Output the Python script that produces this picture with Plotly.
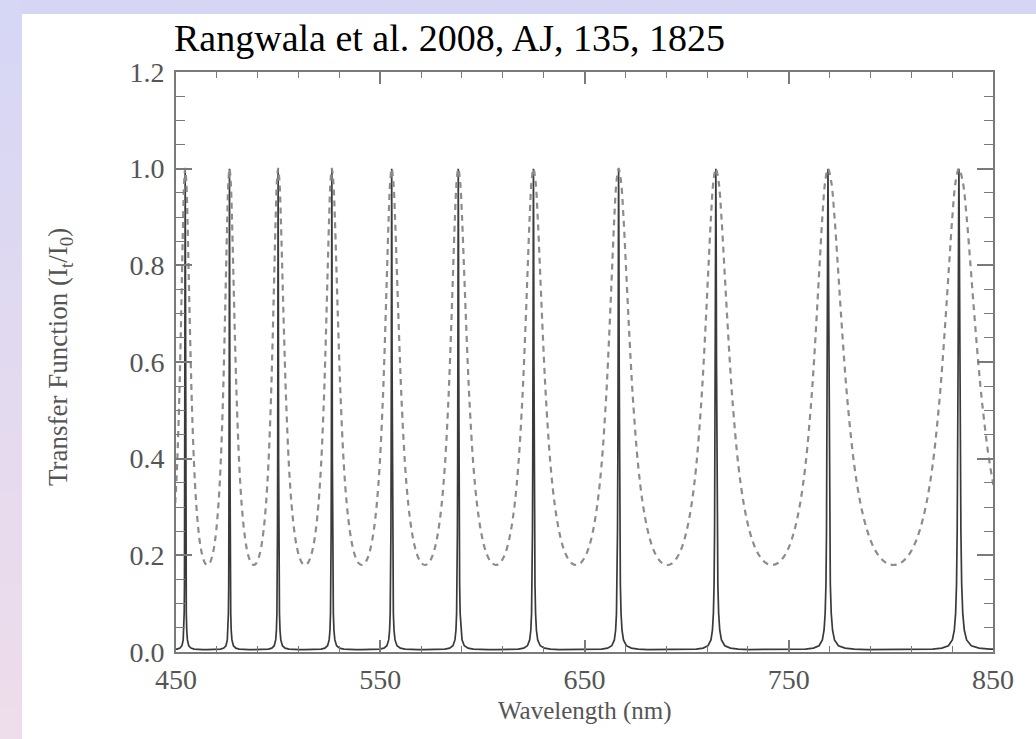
import plotly.graph_objects as go

# Wavelengths (nm) of the transmission maxima of successive interference orders.
# The first and last lie just outside the plotted window so both curves run to the edges.
peak_wavelengths_nm = [434.8, 454.5, 476.2, 500.0, 526.3, 555.6, 588.2, 625.0,
                       666.7, 714.3, 769.2, 833.3, 909.1]

# Half profile of the high-finesse (narrow) transfer function:
# fraction of the way from a maximum towards the next order, and transmission there.
narrow_phase = [0.0, 0.003, 0.006, 0.009, 0.013, 0.018, 0.025, 0.035, 0.05,
                0.08, 0.13, 0.2, 0.3, 0.4, 0.5]
narrow_trans = [1.0, 0.85, 0.6, 0.4, 0.25, 0.14, 0.08, 0.045, 0.025,
                0.013, 0.008, 0.006, 0.005, 0.005, 0.005]

# Half profile of the low-finesse (broad, dashed) transfer function.
broad_phase = [0.0, 0.025, 0.05, 0.075, 0.1, 0.125, 0.15, 0.2, 0.25,
               0.3, 0.35, 0.4, 0.45, 0.5]
broad_trans = [1.0, 0.973, 0.90, 0.80, 0.697, 0.60, 0.516, 0.388, 0.305,
               0.251, 0.216, 0.195, 0.1835, 0.18]


def order_curve(phase, trans):
    """Lay the half profile out symmetrically between every pair of adjacent maxima."""
    xs, ys = [], []
    for a, b in zip(peak_wavelengths_nm[:-1], peak_wavelengths_nm[1:]):
        span = b - a
        seg_x = [a + f * span for f in phase] + [b - f * span for f in reversed(phase[:-1])]
        seg_y = list(trans) + list(reversed(trans[:-1]))
        if xs:
            seg_x, seg_y = seg_x[1:], seg_y[1:]
        xs += seg_x
        ys += seg_y
    return xs, ys


narrow_x, narrow_y = order_curve(narrow_phase, narrow_trans)
broad_x, broad_y = order_curve(broad_phase, broad_trans)

W, H = 1036, 739
PL, PR, PT, PB = 176, 993, 72, 652  # plot-area edges in pixels


def px(x):
    return (x - PL) / (PR - PL)


def py(y):
    return (PB - y) / (PB - PT)


fig = go.Figure()
fig.add_trace(go.Scatter(x=narrow_x, y=narrow_y, mode="lines",
                         line=dict(color="#3a3a3a", width=1.7),
                         showlegend=False, hoverinfo="skip"))
fig.add_trace(go.Scatter(x=broad_x, y=broad_y, mode="lines", line_shape="spline",
                         line=dict(color="#8c8c8c", width=2.2, dash="6px,5px"),
                         showlegend=False, hoverinfo="skip"))

# page background: lavender frame with a white panel
shapes = [dict(type="rect", xref="paper", yref="paper", layer="below",
               x0=px(0), x1=px(W), y0=py(H), y1=py(0),
               fillcolor="#d6d6f4", line_width=0)]
bands = 24
top_c, bot_c = (214, 214, 245), (238, 221, 234)
for i in range(bands):
    t = i / (bands - 1)
    c = tuple(round(top_c[k] + (bot_c[k] - top_c[k]) * t) for k in range(3))
    y0 = H * i / bands
    y1 = H * (i + 1) / bands
    shapes.append(dict(type="rect", xref="paper", yref="paper", layer="below",
                       x0=px(0), x1=px(22), y0=py(y1 + 1), y1=py(y0),
                       fillcolor="rgb(%d,%d,%d)" % c, line_width=0))
shapes.append(dict(type="rect", xref="paper", yref="paper", layer="below",
                   x0=px(22), x1=px(W + 2), y0=py(H + 2), y1=py(14),
                   fillcolor="white", line_width=0))

serif = "Liberation Serif"
axis_col = "#7a7a7a"
label_col = "#555555"

fig.update_layout(
    width=W, height=H,
    margin=dict(l=PL, r=W - PR, t=PT, b=H - PB, autoexpand=False),
    paper_bgcolor="#d6d6f4",
    plot_bgcolor="rgba(0,0,0,0)",
    shapes=shapes,
    xaxis=dict(range=[450, 850], tick0=450, dtick=100, ticks="inside", ticklen=12,
               tickwidth=1.5, tickcolor=axis_col, showline=True, linecolor=axis_col,
               linewidth=2, mirror="ticks", showgrid=False, zeroline=False,
               ticklabelstandoff=1,
               tickfont=dict(family=serif, size=28, color=label_col),
               minor=dict(ticks="inside", tick0=450, dtick=20, ticklen=6,
                          tickwidth=1.2, tickcolor=axis_col, showgrid=False)),
    yaxis=dict(range=[0, 1.2], tick0=0, dtick=0.2, tickformat=".1f", ticks="inside",
               ticklen=16, tickwidth=1.5, tickcolor=axis_col, showline=True,
               linecolor=axis_col, linewidth=2, mirror="ticks", showgrid=False,
               zeroline=False, ticklabelstandoff=4,
               tickfont=dict(family=serif, size=28, color=label_col),
               minor=dict(ticks="inside", tick0=0, dtick=0.05, ticklen=9,
                          tickwidth=1.2, tickcolor=axis_col, showgrid=False)),
    annotations=[
        dict(text="Rangwala et al. 2008, AJ, 135, 1825", xref="paper", yref="paper",
             x=px(172), y=py(38), xanchor="left", yanchor="middle", showarrow=False,
             font=dict(family=serif, size=38, color="black")),
        dict(text="Wavelength (nm)", xref="paper", yref="paper",
             x=px(585), y=py(711), xanchor="center", yanchor="middle", showarrow=False,
             font=dict(family=serif, size=25, color=label_col)),
        dict(text="Transfer Function (I<sub>t</sub>/I<sub>0</sub>)", xref="paper",
             yref="paper", x=px(60), y=py(357), xanchor="center", yanchor="middle",
             textangle=-90, showarrow=False,
             font=dict(family=serif, size=27, color=label_col)),
    ],
)

fig.write_html("out.html")
